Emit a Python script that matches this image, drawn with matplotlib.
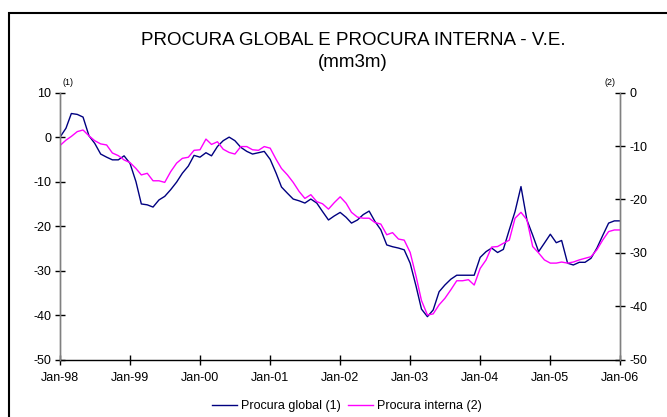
import matplotlib
matplotlib.use("Agg")
import matplotlib.pyplot as plt
import pandas as pd
from matplotlib.patches import Rectangle

plt.rcParams['font.family'] = ['Liberation Sans', 'DejaVu Sans']

months = pd.date_range('1998-01-01', periods=97, freq='MS')
tick_labels = ['Jan-98', 'Jan-99', 'Jan-00', 'Jan-01', 'Jan-02',
               'Jan-03', 'Jan-04', 'Jan-05', 'Jan-06']

# Procura global (1) - left axis
procura_global = [
    0.0, 2.0, 5.3, 5.1, 4.5, 0.3, -1.4, -3.8, -4.5, -5.1, -5.1, -4.2,
    -5.9, -10.0, -15.0, -15.2, -15.7, -14.1, -13.3, -11.8, -10.1, -8.1, -6.5, -4.1,
    -4.5, -3.5, -4.2, -2.1, -0.8, 0.0, -0.8, -2.3, -3.2, -3.8, -3.5, -3.2,
    -5.0, -8.1, -11.2, -12.6, -13.9, -14.3, -14.8, -13.9, -14.8, -16.7, -18.6, -17.7,
    -16.9, -18.0, -19.3, -18.6, -17.4, -16.6, -18.9, -20.8, -24.2, -24.6, -24.9, -25.3,
    -28.3, -33.5, -38.6, -40.3, -38.8, -34.7, -33.2, -31.9, -31.0, -31.0, -31.0, -31.0,
    -27.0, -25.7, -24.9, -25.9, -25.2, -20.8, -16.7, -11.1, -18.6, -22.0, -25.7, -23.8,
    -21.8, -23.7, -23.2, -28.3, -28.7, -28.1, -28.1, -27.2, -24.9, -22.1, -19.3, -18.8,
    -18.8,
]

# Procura interna (2) - right axis
procura_interna = [
    -9.9, -8.9, -8.2, -7.3, -7.0, -8.1, -9.0, -9.6, -9.8, -11.3, -11.8, -12.6,
    -13.1, -14.2, -15.4, -15.1, -16.5, -16.5, -16.8, -14.8, -13.2, -12.3, -12.1, -10.8,
    -10.7, -8.7, -9.7, -9.2, -10.6, -11.2, -11.5, -10.1, -10.1, -10.7, -10.8, -10.1,
    -10.4, -12.5, -14.2, -15.4, -16.8, -18.5, -19.8, -19.1, -20.4, -20.8, -21.8, -20.6,
    -19.5, -20.7, -22.4, -23.3, -23.5, -23.5, -24.3, -24.6, -26.6, -26.2, -27.4, -27.6,
    -29.9, -34.4, -38.9, -41.6, -41.4, -39.7, -38.5, -36.9, -35.2, -35.2, -35.0, -36.0,
    -32.9, -31.3, -28.9, -28.8, -28.2, -27.6, -23.5, -22.4, -23.8, -28.8, -30.0, -31.3,
    -31.9, -31.9, -31.7, -31.9, -31.7, -31.3, -31.0, -30.7, -29.4, -27.6, -26.0, -25.7,
    -25.7,
]

fig = plt.figure(figsize=(6.67, 4.17), dpi=100)
ax = fig.add_axes([0.090, 0.137, 0.840, 0.641])
ax2 = ax.twinx()

l1, = ax.plot(months, procura_global, color='#000080', lw=1.0)
l2, = ax2.plot(months, procura_interna, color='#FF00FF', lw=1.0)

ax.set_xlim(months[0], months[-1])
ax.set_ylim(-50, 10)
ax2.set_ylim(-50, 0)
ax.set_yticks(range(-50, 11, 10))
ax2.set_yticks(range(-50, 1, 10))
ax.set_yticklabels([str(v) for v in range(-50, 11, 10)])
ax2.set_yticklabels([str(v) for v in range(-50, 1, 10)])
ax.set_xticks(months[::12])
ax.set_xticklabels(tick_labels)

for a in (ax, ax2):
    a.spines['top'].set_visible(False)
    for s in a.spines.values():
        s.set_color('#808080')
        s.set_linewidth(1.0)
    a.tick_params(direction='inout', length=7, width=1.0, color='black',
                  labelsize=9)
ax.spines['bottom'].set_color('black')
ax2.spines['bottom'].set_visible(False)
ax.tick_params(axis='x', pad=5)
ax.tick_params(axis='y', pad=3)
ax2.tick_params(axis='y', pad=3)

fig.text(0.529, 0.904, 'PROCURA GLOBAL E PROCURA INTERNA - V.E.',
         ha='center', va='center', fontsize=13.5)
fig.text(0.529, 0.849, '(mm3m)', ha='center', va='center', fontsize=13.5)
fig.text(0.102, 0.803, '(1)', ha='center', va='center', fontsize=6.5)
fig.text(0.915, 0.803, '(2)', ha='center', va='center', fontsize=6.5)

fig.legend([l1, l2], ['Procura global (1)', 'Procura interna (2)'],
           loc='center', bbox_to_anchor=(0.52, 0.026), ncol=2, frameon=False,
           fontsize=9, handlelength=2.0, handletextpad=0.3, columnspacing=0.6)

fig.patches.append(Rectangle((9 / 667, -0.1), 1.2, 1.1 - 13 / 417,
                             transform=fig.transFigure, fill=False,
                             edgecolor='black', lw=1.5))

fig.savefig('out.png', dpi=100)
